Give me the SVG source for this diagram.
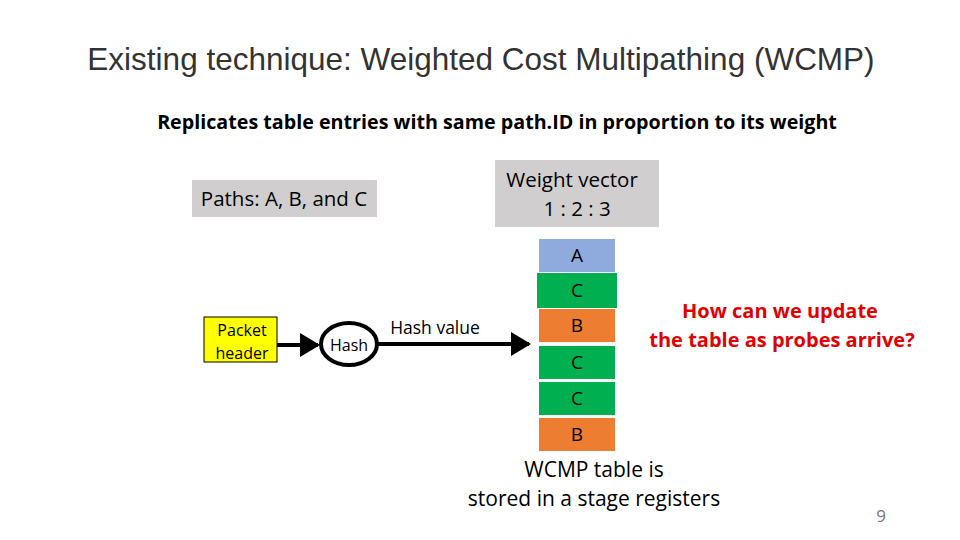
<svg xmlns="http://www.w3.org/2000/svg" width="960" height="540" viewBox="0 0 960 540">
<style>
text{font-family:"Open Sans","Noto Sans",sans-serif;fill:#000}
.cell{font-size:19px;text-anchor:middle}
</style>
<defs><marker id="ah" markerWidth="5" markerHeight="6" refX="4.5" refY="3" orient="auto" markerUnits="strokeWidth"><path d="M0,0L5,3L0,6z" fill="#000"/></marker></defs>
<rect width="960" height="540" fill="#fff"/>
<text x="481" y="70" text-anchor="middle" style="font-family:'Liberation Sans',Arial,sans-serif;font-size:31.5px;fill:#333">Existing technique: Weighted Cost Multipathing (WCMP)</text>
<text x="497" y="129" text-anchor="middle" style="font-size:19.7px;font-weight:bold">Replicates table entries with same path.ID in proportion to its weight</text>
<g id="paths"><rect x="192" y="180" width="185" height="37" fill="#d0cece"/><text x="284" y="206" text-anchor="middle" font-size="20.5">Paths: A, B, and C</text></g>
<g id="weight"><rect x="495" y="160" width="164" height="67" fill="#d0cece"/><text x="572" y="187" text-anchor="middle" font-size="20.5">Weight vector</text><text x="577" y="216" text-anchor="middle" font-size="20.5">1 : 2 : 3</text></g>
<g id="packet"><rect x="204" y="317" width="73" height="45" fill="#ffff00" stroke="#000" stroke-width="1"/><text x="242" y="336" text-anchor="middle" font-size="16">Packet</text><text x="242" y="359" text-anchor="middle" font-size="16">header</text></g>
<g id="hash"><ellipse cx="349" cy="344" rx="28" ry="21" fill="#fff" stroke="#000" stroke-width="4"/><text x="349" y="351" text-anchor="middle" font-size="16">Hash</text></g>
<g id="connectors" stroke="#000" stroke-width="4" fill="none">
<line x1="277" y1="345" x2="318" y2="345" marker-end="url(#ah)"/>
<line x1="378" y1="344" x2="529" y2="344" marker-end="url(#ah)"/>
</g>
<text x="435" y="334" text-anchor="middle" font-size="17.5">Hash value</text>
<g id="table">
<rect x="539" y="239" width="76" height="33" fill="#8faadc"/><text class="cell" x="577" y="262">A</text>
<rect x="537" y="273" width="80" height="35" fill="#00b050"/><text class="cell" x="577" y="297">C</text>
<rect x="539" y="309" width="76" height="33" fill="#ed7d31"/><text class="cell" x="577" y="332">B</text>
<rect x="539" y="346" width="76" height="33" fill="#00b050"/><text class="cell" x="577" y="369">C</text>
<rect x="539" y="382" width="76" height="33" fill="#00b050"/><text class="cell" x="577" y="405">C</text>
<rect x="539" y="418" width="76" height="33" fill="#ed7d31"/><text class="cell" x="577" y="441">B</text>
</g>
<text x="780" y="318" text-anchor="middle" style="font-size:20px;font-weight:bold;fill:#e00000">How can we update</text>
<text x="782" y="347" text-anchor="middle" style="font-size:20px;font-weight:bold;fill:#e00000">the table as probes arrive?</text>
<text x="594" y="477" text-anchor="middle" font-size="21">WCMP table is</text>
<text x="594" y="506" text-anchor="middle" font-size="21">stored in a stage registers</text>
<text x="881" y="522" text-anchor="middle" style="font-size:17px;fill:#777">9</text>
</svg>
